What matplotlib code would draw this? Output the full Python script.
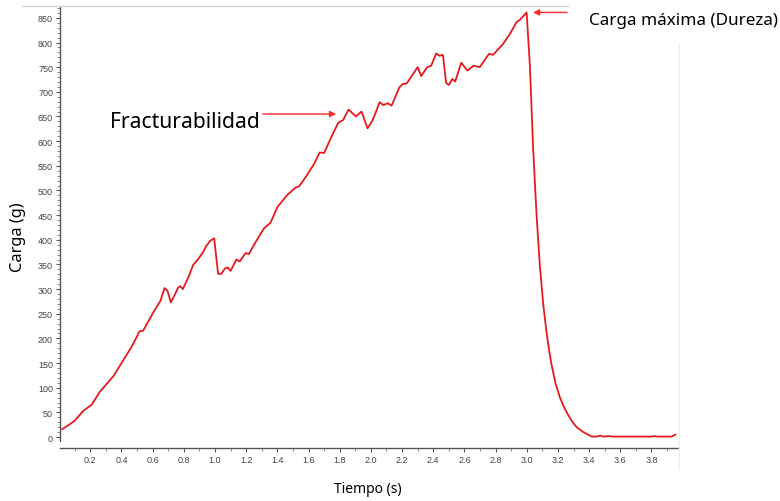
import matplotlib.pyplot as plt
from matplotlib.lines import Line2D
from matplotlib.ticker import MultipleLocator

tiempo = [0.02, 0.06, 0.10, 0.155, 0.21, 0.26, 0.30, 0.35, 0.41, 0.46,
          0.50, 0.515, 0.54, 0.575, 0.605, 0.65, 0.676, 0.695, 0.717, 0.74,
          0.762, 0.777, 0.794, 0.83, 0.86, 0.885, 0.92, 0.945, 0.97, 0.995,
          1.02, 1.04, 1.065, 1.082, 1.10, 1.138, 1.159, 1.196, 1.217, 1.26,
          1.314, 1.357, 1.40, 1.464, 1.518, 1.539, 1.582, 1.636, 1.672, 1.70,
          1.743, 1.79, 1.822, 1.857, 1.904, 1.94, 1.979, 2.01, 2.03, 2.056,
          2.08, 2.108, 2.133, 2.183, 2.204, 2.23, 2.30, 2.323, 2.361, 2.387,
          2.419, 2.44, 2.462, 2.483, 2.50, 2.522, 2.541, 2.58, 2.619, 2.659,
          2.698, 2.758, 2.784, 2.848, 2.891, 2.934, 2.956, 2.999, 3.02, 3.041,
          3.063, 3.084, 3.106, 3.127, 3.145, 3.16, 3.185, 3.213, 3.24, 3.26,
          3.29, 3.32, 3.363, 3.417, 3.45, 3.47, 3.49, 3.53, 3.55, 3.80,
          3.82, 3.84, 3.93, 3.953]
carga = [16, 24, 33, 53, 66, 91, 106, 124, 155, 180,
         204, 214, 216, 236, 253, 276, 302, 297, 273, 287,
         302, 306, 300, 324, 349, 358, 373, 388, 398, 403,
         331, 331, 342, 344, 337, 360, 356, 373, 371, 395,
         423, 435, 466, 491, 506, 508, 527, 554, 577, 576,
         606, 637, 643, 664, 650, 660, 626, 642, 657, 679,
         673, 677, 672, 709, 716, 717, 750, 732, 750, 753,
         778, 773, 775, 718, 714, 726, 721, 759, 743, 753,
         750, 777, 775, 797, 817, 841, 846, 861, 753, 584,
         449, 347, 268, 212, 172, 145, 108, 80, 60, 48,
         32, 20, 10, 1, 1, 3, 1, 2, 1, 1,
         2, 1, 1, 5]

# Puntos señalados por las flechas
punto_fractura = (1.777, 655)
punto_dureza = (3.04, 861)

rojo = '#e8191e'

fig = plt.figure(figsize=(7.8, 5.02), dpi=100)
ax = fig.add_axes([60 / 780, 60 / 502, 618 / 780, 434 / 502])

ax.plot(tiempo, carga, color=rojo, linewidth=1.3)

ax.set_xlim(0.006, 3.97)
ax.set_ylim(-8, 872)

ax.spines['top'].set_visible(False)
ax.spines['right'].set_visible(False)
ax.spines['bottom'].set_position(('outward', 5))
for s in ('left', 'bottom'):
    ax.spines[s].set_color('#555555')
    ax.spines[s].set_linewidth(1.0)

ax.xaxis.set_major_locator(MultipleLocator(0.2))
ax.xaxis.set_minor_locator(MultipleLocator(0.1))
ax.yaxis.set_major_locator(MultipleLocator(50))
ax.yaxis.set_minor_locator(MultipleLocator(10))
ax.set_xticks([0.2 * i for i in range(1, 20)])
ax.set_xticklabels([f'{0.2 * i:.1f}' for i in range(1, 20)])

ax.tick_params(which='major', length=3, width=0.8, color='#555555',
               labelsize=6.5, labelcolor='#444444', pad=2)
ax.tick_params(which='minor', length=2, width=0.6, color='#777777')
for lab in ax.get_xticklabels() + ax.get_yticklabels():
    lab.set_family('Liberation Sans')

fig.text(18 / 780, 1 - 237 / 502, 'Carga (g)', rotation=90, ha='center',
         va='center', fontsize=11.8, family='Noto Sans')
fig.text(368 / 780, 1 - 490 / 502, 'Tiempo (s)', ha='center', va='center',
         fontsize=10, family='Noto Sans')
fig.text(110 / 780, 1 - 123 / 502, 'Fracturabilidad', ha='left',
         va='center', fontsize=15.2, family='Noto Sans')
fig.text(589 / 780, 1 - 21 / 502, 'Carga máxima (Dureza)', ha='left',
         va='center', fontsize=12.3, family='Noto Sans')

flecha = dict(arrowstyle='-|>', color='#ff2a2a', lw=1.0,
              mutation_scale=9, shrinkA=0, shrinkB=0)
ax.annotate('', xy=punto_fractura, xytext=(1.307, 655),
            arrowprops=flecha, annotation_clip=False)
ax.annotate('', xy=punto_dureza, xytext=(3.258, 861),
            arrowprops=flecha, annotation_clip=False)

# bordes grises de la captura original
fig.add_artist(Line2D([22 / 780, 568 / 780], [1 - 7 / 502, 1 - 7 / 502],
                      color='#d4d4d4', lw=1.0))
fig.add_artist(Line2D([679 / 780, 679 / 780], [1 - 44 / 502, 1 - 470 / 502],
                      color='#eeeeee', lw=1.0))

fig.savefig('out.png', dpi=100)
